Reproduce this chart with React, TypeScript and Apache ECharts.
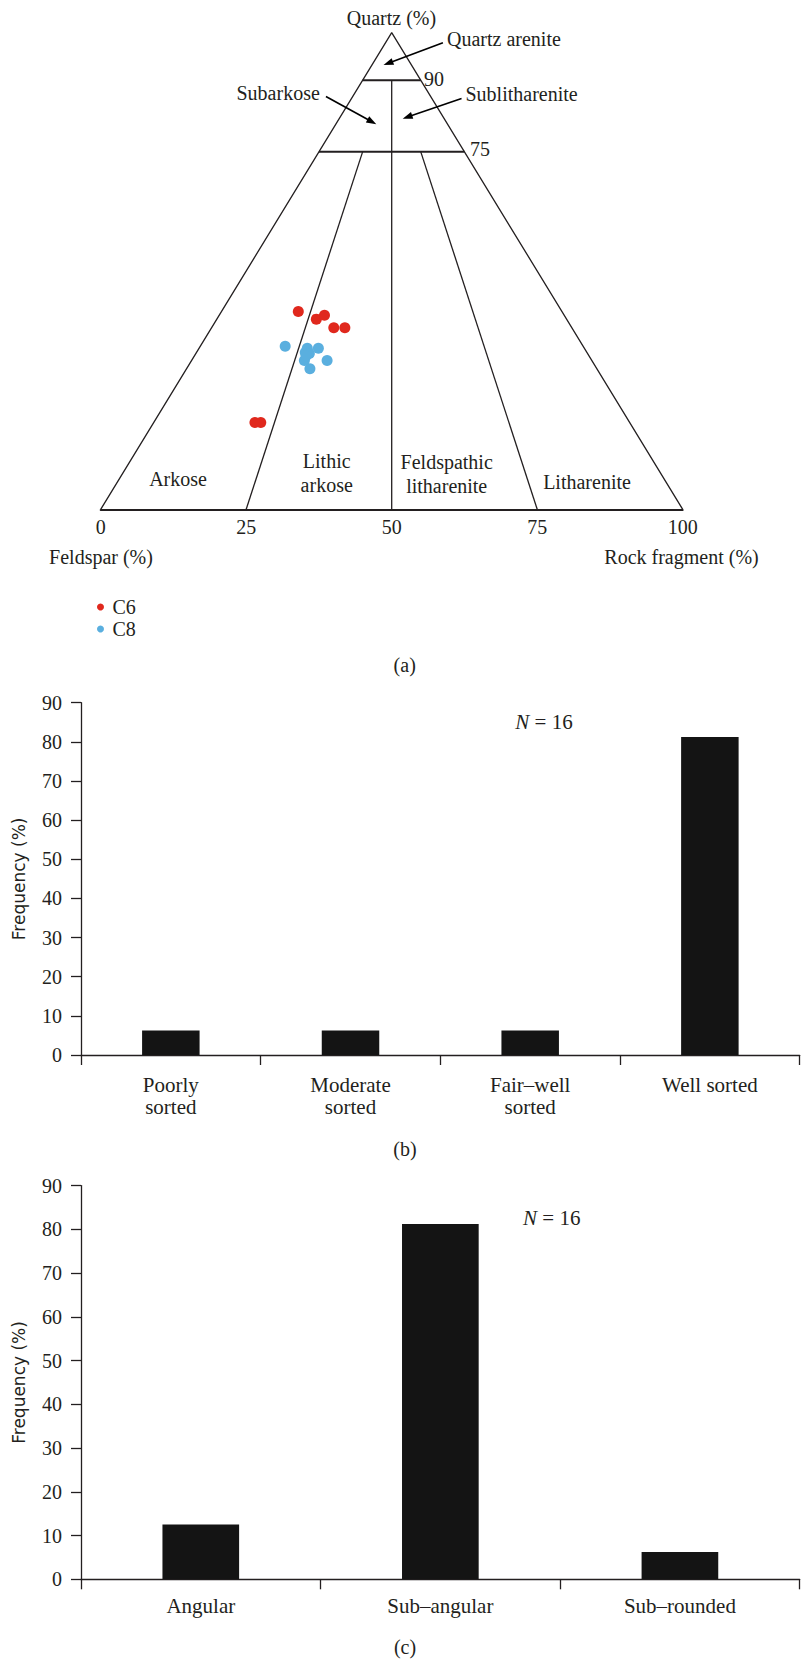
import React, { useEffect, useRef } from "react";
import * as echarts from "echarts";

// ---------- Data ----------
// Ternary samples as [Quartz, Feldspar, Rock fragment] (%)
const c6Samples: number[][] = [
  [41.5, 45.3, 13.2],
  [39.9, 43.0, 17.1],
  [40.7, 41.2, 18.1],
  [38.1, 40.9, 21.0],
  [38.1, 39.0, 22.9],
  [18.2, 64.4, 17.4],
  [18.2, 63.4, 18.4],
];
const c8Samples: number[][] = [
  [34.2, 51.2, 14.6],
  [33.8, 47.6, 18.6],
  [32.9, 48.4, 18.7],
  [32.7, 47.8, 19.5],
  [33.8, 45.7, 20.5],
  [31.2, 49.4, 19.4],
  [31.2, 45.5, 23.3],
  [29.5, 49.3, 21.2],
  [32.2, 48.6, 19.2],
];
// Classification boundaries (ternary [Q, F, R])
const outlineSides: number[][][] = [
  [[0, 100, 0], [100, 0, 0], [0, 0, 100]],
];
const horizontalLines: number[][][] = [
  [[90, 10, 0], [90, 0, 10]],
  [[75, 25, 0], [75, 0, 25]],
];
const innerLines: number[][][] = [
  [[90, 5, 5], [0, 50, 50]],
  [[75, 17.5, 7.5], [0, 75, 25]],
  [[75, 7.5, 17.5], [0, 25, 75]],
];
// Arrows (diagram x/y units): [start, tip]
const arrowLines: number[][][] = [
  [[58.8, 97.9], [49.4, 93.6]],
  [[38.7, 86.6], [46.6, 81.3]],
  [[62.0, 86.2], [52.7, 82.3]],
];

const sortingCategories = ["Poorly\nsorted", "Moderate\nsorted", "Fair\u2013well\nsorted", "Well sorted"];
const sortingValues = [6.25, 6.25, 6.25, 81.25];
const roundnessCategories = ["Angular", "Sub\u2013angular", "Sub\u2013rounded"];
const roundnessValues = [12.5, 81.25, 6.25];

// ---------- Helpers ----------
const toXY = (p: number[]) => {
  const t = p[0] + p[1] + p[2];
  const q = (p[0] / t) * 100;
  const r = (p[2] / t) * 100;
  return [r + q / 2, q];
};

const INK = "#231f20";
const SERIF = "Liberation Serif";
const SANS = "DejaVu Sans";

const txt = (text: string, x: number, y: number, align: string, extra: any = {}) => ({
  type: "text",
  x,
  y,
  silent: true,
  style: {
    text,
    fill: INK,
    fontFamily: SERIF,
    fontSize: 20,
    align,
    verticalAlign: "middle",
    ...extra,
  },
});

const nText = (x: number, y: number) => ({
  type: "text",
  x,
  y,
  silent: true,
  style: {
    text: "{i|N} = 16",
    fill: INK,
    fontFamily: SERIF,
    fontSize: 21,
    align: "center",
    verticalAlign: "middle",
    rich: {
      i: { fontStyle: "italic", fontFamily: SERIF, fontSize: 21, fill: INK },
    },
  },
});

export default function App() {
  const ref = useRef<HTMLDivElement>(null);

  useEffect(() => {
    if (!ref.current) return;
    const chart = echarts.init(ref.current, undefined, { renderer: "svg" });

    const segSeries = (segs: number[][][], width: number) =>
      segs.map((seg) => ({
        type: "line",
        xAxisIndex: 0,
        yAxisIndex: 0,
        data: seg.map(toXY),
        symbol: "none",
        silent: true,
        clip: false,
        lineStyle: { color: INK, width },
      }));

    const valueYAxis = (gridIndex: number) => ({
      type: "value",
      gridIndex,
      min: 0,
      max: 90,
      interval: 10,
      name: "Frequency (%)",
      nameLocation: "middle",
      nameRotate: 90,
      nameGap: 54,
      nameTextStyle: { fontFamily: SANS, fontSize: 17, color: INK },
      axisLine: { show: true, lineStyle: { color: INK, width: 1.3 } },
      axisTick: { show: true, length: 10, lineStyle: { color: INK, width: 1.3 } },
      axisLabel: { fontFamily: SERIF, fontSize: 20, color: INK, margin: 19 },
      splitLine: { show: false },
    });

    const catXAxis = (gridIndex: number, data: string[], margin: number) => ({
      type: "category",
      gridIndex,
      data,
      axisLine: { show: true, lineStyle: { color: INK, width: 1.3 } },
      axisTick: { show: true, length: 10, lineStyle: { color: INK, width: 1.3 } },
      axisLabel: { fontFamily: SERIF, fontSize: 21, lineHeight: 22, color: INK, margin, interval: 0 },
      splitLine: { show: false },
    });

    const option: any = {
      animation: false,
      backgroundColor: "#ffffff",
      textStyle: { fontFamily: SERIF, color: INK },
      grid: [
        { left: 100.7, top: 32.7, width: 582, height: 476.6, outerBoundsMode: "none" },
        { left: 81, top: 702.7, width: 718.7, height: 352.3, outerBoundsMode: "none" },
        { left: 81, top: 1185.6, width: 718.7, height: 393.7, outerBoundsMode: "none" },
      ],
      xAxis: [
        {
          type: "value",
          gridIndex: 0,
          min: 0,
          max: 100,
          interval: 25,
          axisLine: { show: true, onZero: false, lineStyle: { color: INK, width: 2 } },
          axisTick: { show: false },
          axisLabel: { fontFamily: SERIF, fontSize: 20, color: INK, margin: 8 },
          splitLine: { show: false },
        },
        catXAxis(1, sortingCategories, 19),
        catXAxis(2, roundnessCategories, 16),
      ],
      yAxis: [
        { type: "value", gridIndex: 0, min: 0, max: 100, show: false },
        valueYAxis(1),
        valueYAxis(2),
      ],
      legend: {
        data: ["C6", "C8"],
        orient: "vertical",
        left: 92,
        top: 592,
        icon: "circle",
        itemWidth: 14,
        itemHeight: 7,
        itemGap: 2,
        selectedMode: false,
        textStyle: { fontFamily: SERIF, fontSize: 20, lineHeight: 20, color: INK },
      },
      series: [
        {
          type: "line",
          xAxisIndex: 0,
          yAxisIndex: 0,
          data: outlineSides[0].map(toXY),
          symbol: "none",
          silent: true,
          clip: false,
          lineStyle: { color: INK, width: 1.3 },
          markLine: {
            silent: true,
            symbol: ["none", "triangle"],
            symbolSize: [7, 10],
            label: { show: false },
            lineStyle: { color: "#000", width: 1.6, type: "solid" },
            emphasis: { disabled: true },
            data: arrowLines.map((a) => [{ coord: a[0] }, { coord: a[1] }]),
          },
        },
        ...segSeries(horizontalLines, 2),
        ...segSeries(innerLines, 1.3),
        {
          name: "C6",
          type: "scatter",
          xAxisIndex: 0,
          yAxisIndex: 0,
          symbol: "circle",
          symbolSize: 11,
          itemStyle: { color: "#e0281d", opacity: 1 },
          data: c6Samples.map(toXY),
        },
        {
          name: "C8",
          type: "scatter",
          xAxisIndex: 0,
          yAxisIndex: 0,
          symbol: "circle",
          symbolSize: 11,
          itemStyle: { color: "#5aafdf", opacity: 1 },
          data: c8Samples.map(toXY),
        },
        {
          type: "bar",
          xAxisIndex: 1,
          yAxisIndex: 1,
          data: sortingValues,
          barWidth: "32%",
          itemStyle: { color: "#141414" },
          silent: true,
        },
        {
          type: "bar",
          xAxisIndex: 2,
          yAxisIndex: 2,
          data: roundnessValues,
          barWidth: "32%",
          itemStyle: { color: "#141414" },
          silent: true,
        },
      ],
      graphic: [
        txt("Quartz (%)", 391.5, 18, "center"),
        txt("Quartz arenite", 447, 39, "left"),
        txt("90", 424, 78.5, "left"),
        txt("Subarkose", 236.5, 92.5, "left"),
        txt("Sublitharenite", 465.5, 94, "left"),
        txt("75", 470, 148.5, "left"),
        txt("Arkose", 178, 479.3, "center"),
        txt("Lithic\narkose", 326.7, 473, "center", { lineHeight: 24.5 }),
        txt("Feldspathic\nlitharenite", 446.7, 474.2, "center", { lineHeight: 24.5 }),
        txt("Litharenite", 587, 481.7, "center"),
        txt("Feldspar (%)", 101, 557, "center"),
        txt("Rock fragment (%)", 681.5, 557, "center"),
        txt("(a)", 404.7, 665, "center"),
        nText(544, 722),
        txt("(b)", 405, 1149.3, "center"),
        nText(551.7, 1218.3),
        txt("(c)", 405, 1646.7, "center"),
      ],
    };

    chart.setOption(option);
    return () => chart.dispose();
  }, []);

  return (
    <div
      ref={ref}
      style={{ position: "absolute", left: 0, top: 0, width: 801, height: 1662, background: "#fff" }}
    />
  );
}
